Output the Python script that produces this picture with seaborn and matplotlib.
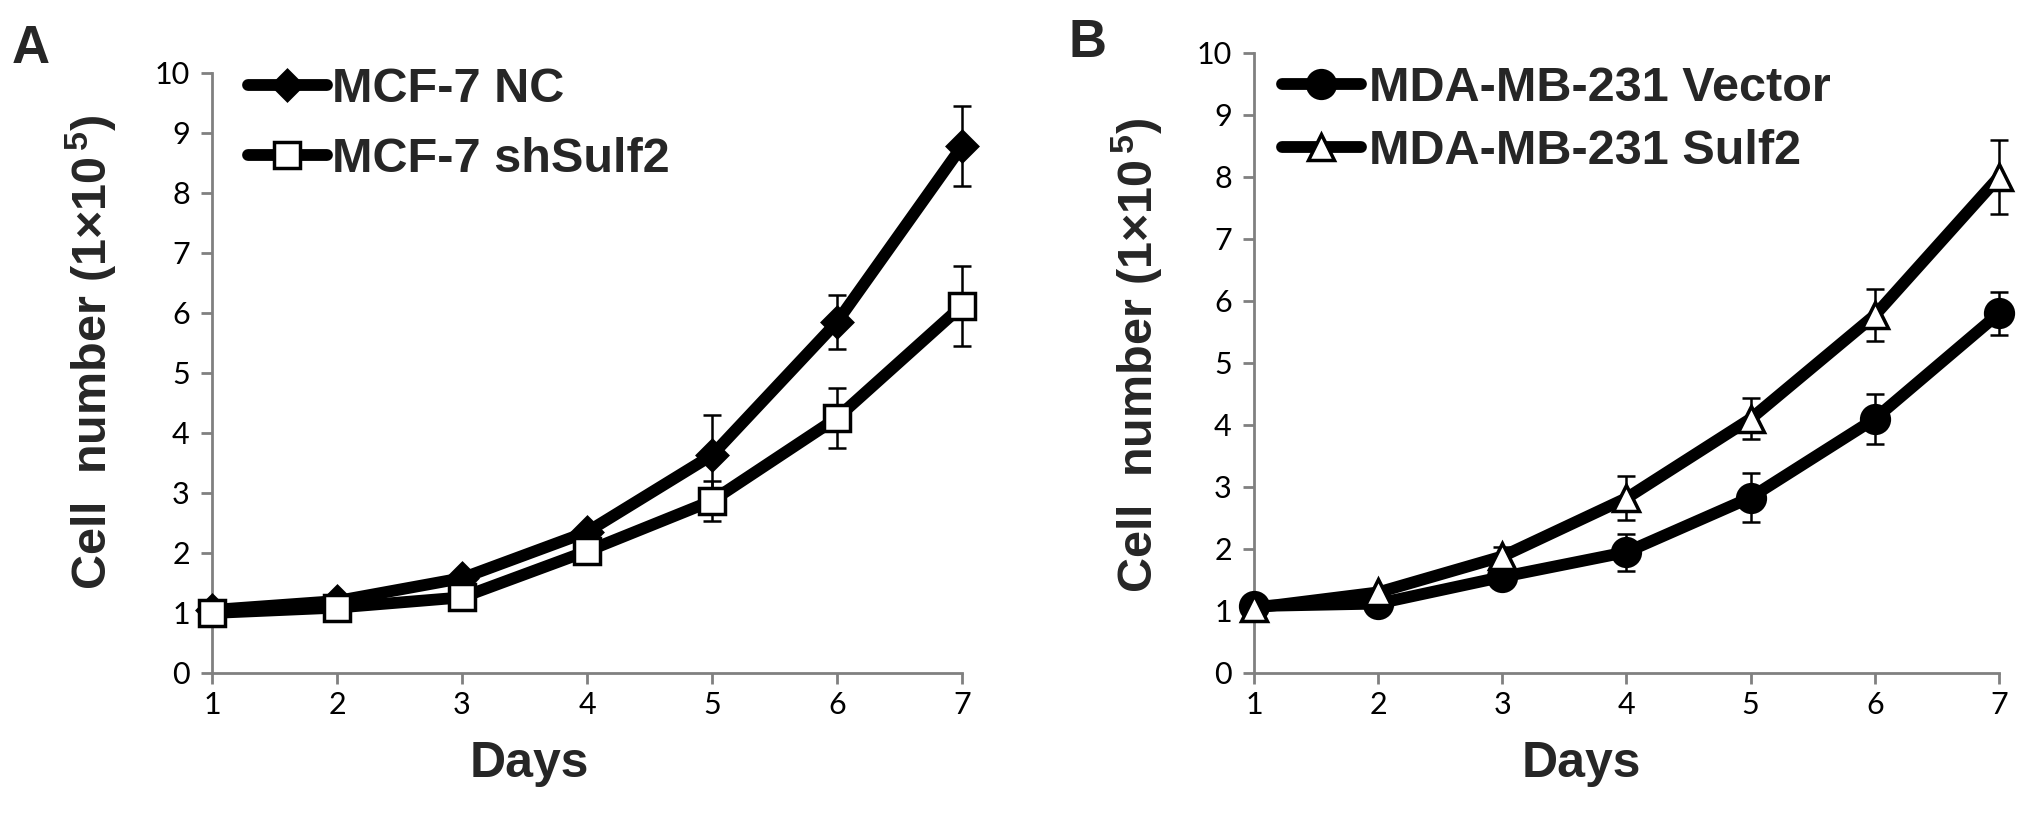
import matplotlib
matplotlib.use("Agg")
import matplotlib.pyplot as plt
from matplotlib.font_manager import FontProperties
import seaborn as sns

# ---------------- data ----------------
days = [1, 2, 3, 4, 5, 6, 7]

a_labels = ["MCF-7 NC", "MCF-7 shSulf2"]
a_nc = [1.05, 1.20, 1.58, 2.35, 3.63, 5.85, 8.78]
a_nc_err = [0.03, 0.05, 0.08, 0.10, 0.67, 0.45, 0.67]
a_sh = [1.00, 1.09, 1.26, 2.03, 2.87, 4.25, 6.12]
a_sh_err = [0.03, 0.05, 0.06, 0.10, 0.33, 0.50, 0.67]

b_labels = ["MDA-MB-231 Vector", "MDA-MB-231 Sulf2"]
b_vec = [1.08, 1.12, 1.55, 1.95, 2.83, 4.10, 5.80]
b_vec_err = [0.03, 0.05, 0.08, 0.30, 0.40, 0.40, 0.35]
b_sul = [1.05, 1.30, 1.88, 2.82, 4.10, 5.77, 8.00]
b_sul_err = [0.03, 0.05, 0.15, 0.35, 0.33, 0.42, 0.60]

y_ticks = list(range(0, 11))

# ---------------- style ----------------
sns.set_theme(style="white")
plt.rcParams["font.family"] = ["Liberation Sans", "DejaVu Sans"]
plt.rcParams["mathtext.fontset"] = "custom"
plt.rcParams["mathtext.rm"] = "Liberation Sans:bold"
plt.rcParams["mathtext.bf"] = "Liberation Sans:bold"
plt.rcParams["mathtext.it"] = "Liberation Sans:bold"
plt.rcParams["mathtext.default"] = "rm"

W, H = 2031, 816
fig = plt.figure(figsize=(W / 100, H / 100), dpi=100)
fig.patch.set_facecolor("white")
axA = fig.add_axes([212 / W, 143 / H, 750 / W, 600 / H])
axB = fig.add_axes([1254 / W, 143 / H, 745 / W, 620 / H])

GRAY = "#808080"
LW = 8.5


def draw_panel(ax, series, ylab_xy, xlab_xy, leg_anchor, leg_pad, leg_spacing):
    # error bars first, beneath the lines and markers
    for label, vals, errs, marker, ms, mfc in series:
        eb = ax.errorbar(days, vals, yerr=errs, fmt="none", ecolor="black",
                         elinewidth=1.8, capsize=6.5, capthick=1.8, zorder=2)
        for art in eb.lines[1] + eb.lines[2]:
            art.set_clip_on(False)
    for label, vals, errs, marker, ms, mfc in series:
        sns.lineplot(x=days, y=vals, ax=ax, color="black", linewidth=LW,
                     marker=marker, ms=ms, mfc=mfc, mec="black", mew=2.5,
                     label=label, errorbar=None, clip_on=False,
                     solid_capstyle="round", solid_joinstyle="round", zorder=3)
    ax.set_xlim(1, 7)
    ax.set_ylim(0, 10)
    ax.set_xticks(days)
    ax.set_yticks(y_ticks)
    ax.set_xticklabels([str(d) for d in days])
    ax.set_yticklabels([str(t) for t in y_ticks])
    for s in ["top", "right"]:
        ax.spines[s].set_visible(False)
    for s in ["left", "bottom"]:
        ax.spines[s].set_color(GRAY)
        ax.spines[s].set_linewidth(2.0)
    ax.tick_params(axis="both", direction="out", length=8, width=2.0,
                   color=GRAY, labelcolor="black", labelsize=22,
                   left=True, bottom=True)
    ax.tick_params(axis="y", pad=8)
    ax.tick_params(axis="x", pad=5)
    for lbl in ax.get_xticklabels() + ax.get_yticklabels():
        lbl.set_fontfamily("Lato")
    ax.set_ylabel("Cell  number (1×10$^{\\,5}$)", fontsize=35, fontweight="bold")
    ax.yaxis.set_label_coords(*ylab_xy)
    ax.yaxis.label.set_va("center")
    ax.set_xlabel("Days", fontsize=36, fontweight="bold")
    ax.xaxis.set_label_coords(*xlab_xy)
    ax.xaxis.label.set_va("center")
    handles, labels = ax.get_legend_handles_labels()
    ax.legend(handles, labels, loc="upper left", bbox_to_anchor=leg_anchor,
              bbox_transform=fig.transFigure, frameon=False,
              prop=FontProperties(family="Liberation Sans", weight="bold", size=35),
              handlelength=1.62, handletextpad=leg_pad, labelspacing=leg_spacing,
              borderpad=0, borderaxespad=0, numpoints=1)


draw_panel(axA,
           [(a_labels[0], a_nc, a_nc_err, "D", 15, "black"),
            (a_labels[1], a_sh, a_sh_err, "s", 19, "white")],
           ylab_xy=(-0.161, 0.535), xlab_xy=(0.423, -0.152),
           leg_anchor=(248 / W, 1 - 67 / H), leg_pad=0.1, leg_spacing=0.52)

draw_panel(axB,
           [(b_labels[0], b_vec, b_vec_err, "o", 20, "black"),
            (b_labels[1], b_sul, b_sul_err, "^", 19, "white")],
           ylab_xy=(-0.157, 0.513), xlab_xy=(0.439, -0.147),
           leg_anchor=(1282 / W, 1 - 66 / H), leg_pad=0.16, leg_spacing=0.37)

fig.text(12 / W, 1 - 24 / H, "A", fontsize=38, fontweight="bold", va="top", ha="left")
fig.text(1069 / W, 1 - 18 / H, "B", fontsize=38, fontweight="bold", va="top", ha="left")

fig.savefig("out.png", dpi=100, facecolor="white")
